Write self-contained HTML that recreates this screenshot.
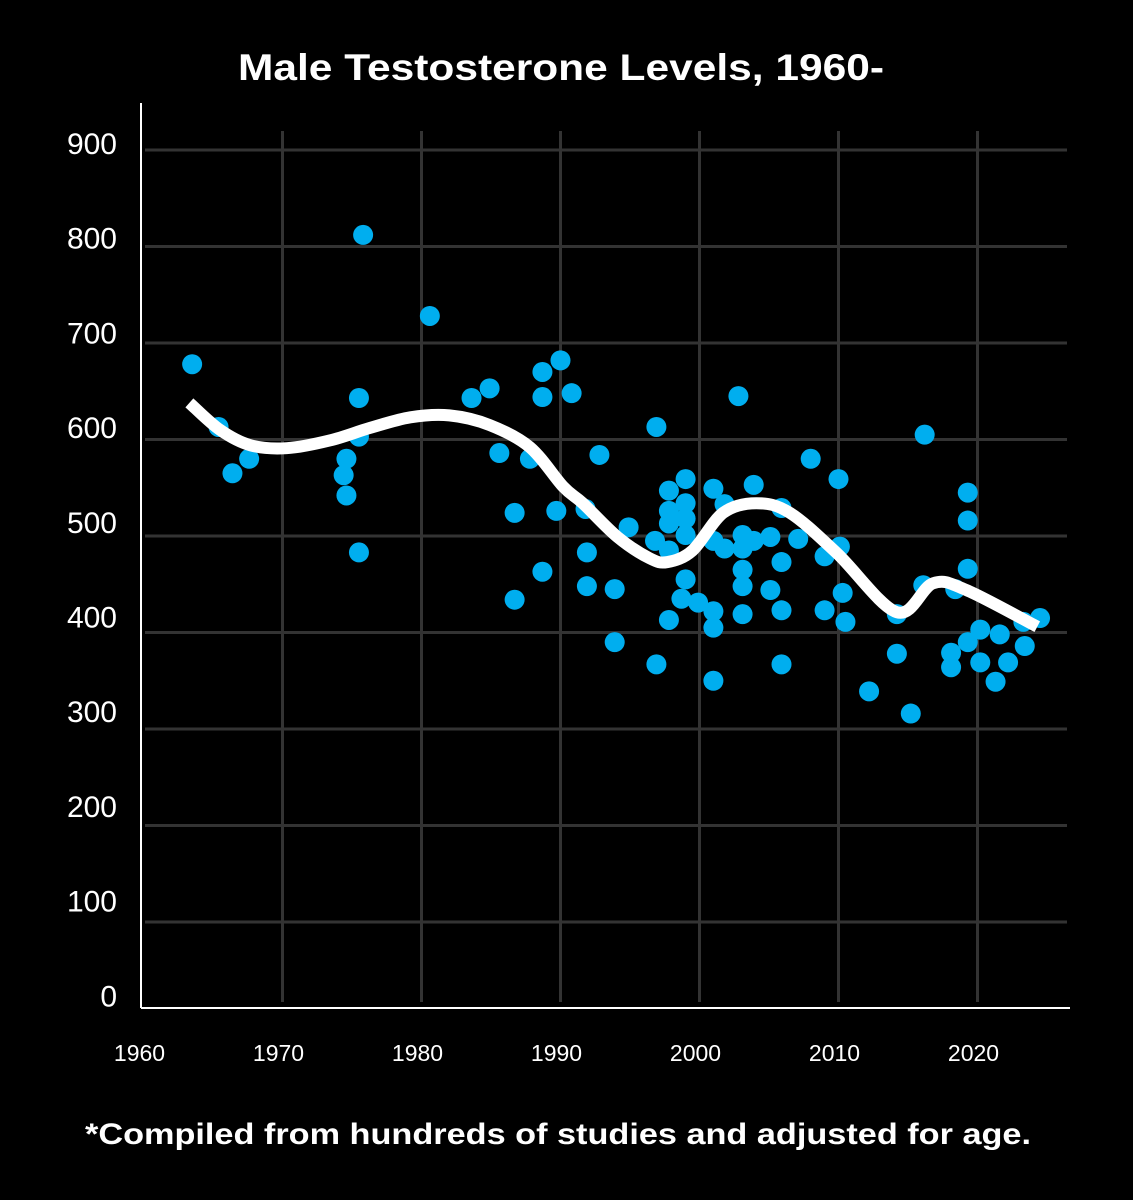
<!DOCTYPE html>
<html><head><meta charset="utf-8"><style>
html,body{margin:0;padding:0;background:#000;}
svg{display:block;font-family:"Liberation Sans",sans-serif;}
</style></head><body>
<svg id="chart" width="1133" height="1200" viewBox="0 0 1133 1200" xmlns="http://www.w3.org/2000/svg">
<rect width="1133" height="1200" fill="#000"/>
<text x="561" y="80" text-anchor="middle" fill="#fff" font-size="37" font-weight="bold" textLength="646" lengthAdjust="spacingAndGlyphs">Male Testosterone Levels, 1960-</text>
<g id="grid"></g>
<g id="axes">
<line x1="141" y1="103" x2="141" y2="1008" stroke="#fff" stroke-width="2"/>
<line x1="141" y1="1008" x2="1070" y2="1008" stroke="#fff" stroke-width="2"/>
</g>
<g id="ylabels"></g>
<g id="xlabels"></g>
<g id="dots"></g>
<path id="trend" fill="none" stroke="#fff" stroke-width="12" stroke-linecap="butt" stroke-linejoin="round"/>
<text x="558" y="1144" text-anchor="middle" fill="#fff" font-size="30" font-weight="bold" textLength="946" lengthAdjust="spacingAndGlyphs">*Compiled from hundreds of studies and adjusted for age.</text>
</svg>
<script>
const yTicks=[0,100,200,300,400,500,600,700,800,900];
const xTicks=[1960,1970,1980,1990,2000,2010,2020];
const dotYears=[1963.5,1965.4,1966.4,1967.6,1975.8,1980.6,1975.5,1975.5,1974.6,1974.4,1974.6,1975.5,1983.6,1984.9,1985.6,1987.8,1986.7,1989.7,1988.7,1990.0,1988.7,1990.8,1992.8,1991.8,1991.9,1988.7,1991.9,1993.9,1986.7,1994.9,1993.9,1996.9,1996.8,1996.9,1997.8,1997.8,1997.8,1997.8,1997.8,1999.0,1999.0,1999.0,1999.0,1999.0,1998.7,1999.9,2001.0,2001.0,2001.0,2001.0,2001.0,2001.8,2001.8,2002.8,2003.1,2003.1,2003.1,2003.1,2003.1,2003.9,2003.9,2005.1,2005.1,2005.9,2005.9,2005.9,2005.9,2007.1,2008.0,2009.0,2009.0,2010.0,2010.1,2010.3,2010.5,2012.2,2014.2,2014.2,2015.2,2016.2,2016.1,2018.4,2018.1,2018.1,2019.3,2019.3,2019.3,2019.3,2020.2,2020.2,2021.6,2021.3,2022.2,2023.4,2023.3,2024.5];
const dotValues=[678,613,565,580,812,728,643,603,580,563,542,483,643,653,586,580,524,526,670,682,644,648,584,528,483,463,448,445,434,509,390,613,495,367,547,526,513,485,413,559,534,518,501,455,435,431,549,495,422,405,350,533,487,645,501,487,465,448,419,553,495,499,444,529,473,423,367,497,580,479,423,559,489,441,411,339,419,378,316,605,449,445,379,364,545,516,466,390,403,369,398,349,369,386,411,415];
const trendYears=[1963.3,1965.5,1967.7,1970.3,1973.4,1976.3,1979.2,1982.0,1984.9,1987.8,1990.2,1991.6,1994.1,1996.4,1997.7,1999.5,2001.7,2004.1,2006.5,2009.9,2014.2,2016.8,2019.2,2024.3];
const trendValues=[638,610,594,591,599,612,623,625,615,592,551,534,499,477,473,485,524,534,524,482,421,451,444,406];

const NS='http://www.w3.org/2000/svg';
function xScale(yr){return 143.5+(yr-1960)*13.9;}
function yScale(v){return 1018.5-v*0.965;}
function yLabelPos(v){return 154+(900-v)*0.947;}
function mk(tag,attrs,parent){const e=document.createElementNS(NS,tag);for(const k in attrs)e.setAttribute(k,attrs[k]);parent.appendChild(e);return e;}

const grid=document.getElementById('grid');
yTicks.forEach(v=>{if(v===0)return;
  const l=mk('line',{x1:145,x2:1067,y1:yScale(v),y2:yScale(v),stroke:'#333','stroke-width':3},grid);
  
  
});
xTicks.forEach(t=>{if(t===1960)return;
  const l=mk('line',{x1:xScale(t),x2:xScale(t),y1:131,y2:1002,stroke:'#333','stroke-width':3},grid);
  
  
});
const yl=document.getElementById('ylabels');
yTicks.forEach(v=>{
  const t=mk('text',{x:117,y:yLabelPos(v),'text-anchor':'end',fill:'#fff','font-size':30},yl);
  t.textContent=v;
  
  
});
const xl=document.getElementById('xlabels');
xTicks.forEach(v=>{
  const t=mk('text',{x:xScale(v)-4,y:1061,'text-anchor':'middle',fill:'#fff','font-size':23},xl);
  t.textContent=v;
  
  
});
const dots=document.getElementById('dots');
dotYears.forEach((yr,i)=>{
  const c=mk('circle',{cx:xScale(yr),cy:yScale(dotValues[i]),r:10,fill:'#00AEEF'},dots);
  
  
});
const pts=trendYears.map((yr,i)=>[xScale(yr),yScale(trendValues[i])]);
let d='M'+pts[0][0]+','+pts[0][1];
for(let i=0;i<pts.length-1;i++){
  const p0=pts[Math.max(0,i-1)],p1=pts[i],p2=pts[i+1],p3=pts[Math.min(pts.length-1,i+2)];
  const c1x=p1[0]+(p2[0]-p0[0])/6,c1y=p1[1]+(p2[1]-p0[1])/6;
  const c2x=p2[0]-(p3[0]-p1[0])/6,c2y=p2[1]-(p3[1]-p1[1])/6;
  d+=' C'+c1x+','+c1y+' '+c2x+','+c2y+' '+p2[0]+','+p2[1];
}
document.getElementById('trend').setAttribute('d',d);
</script>
</body></html>
